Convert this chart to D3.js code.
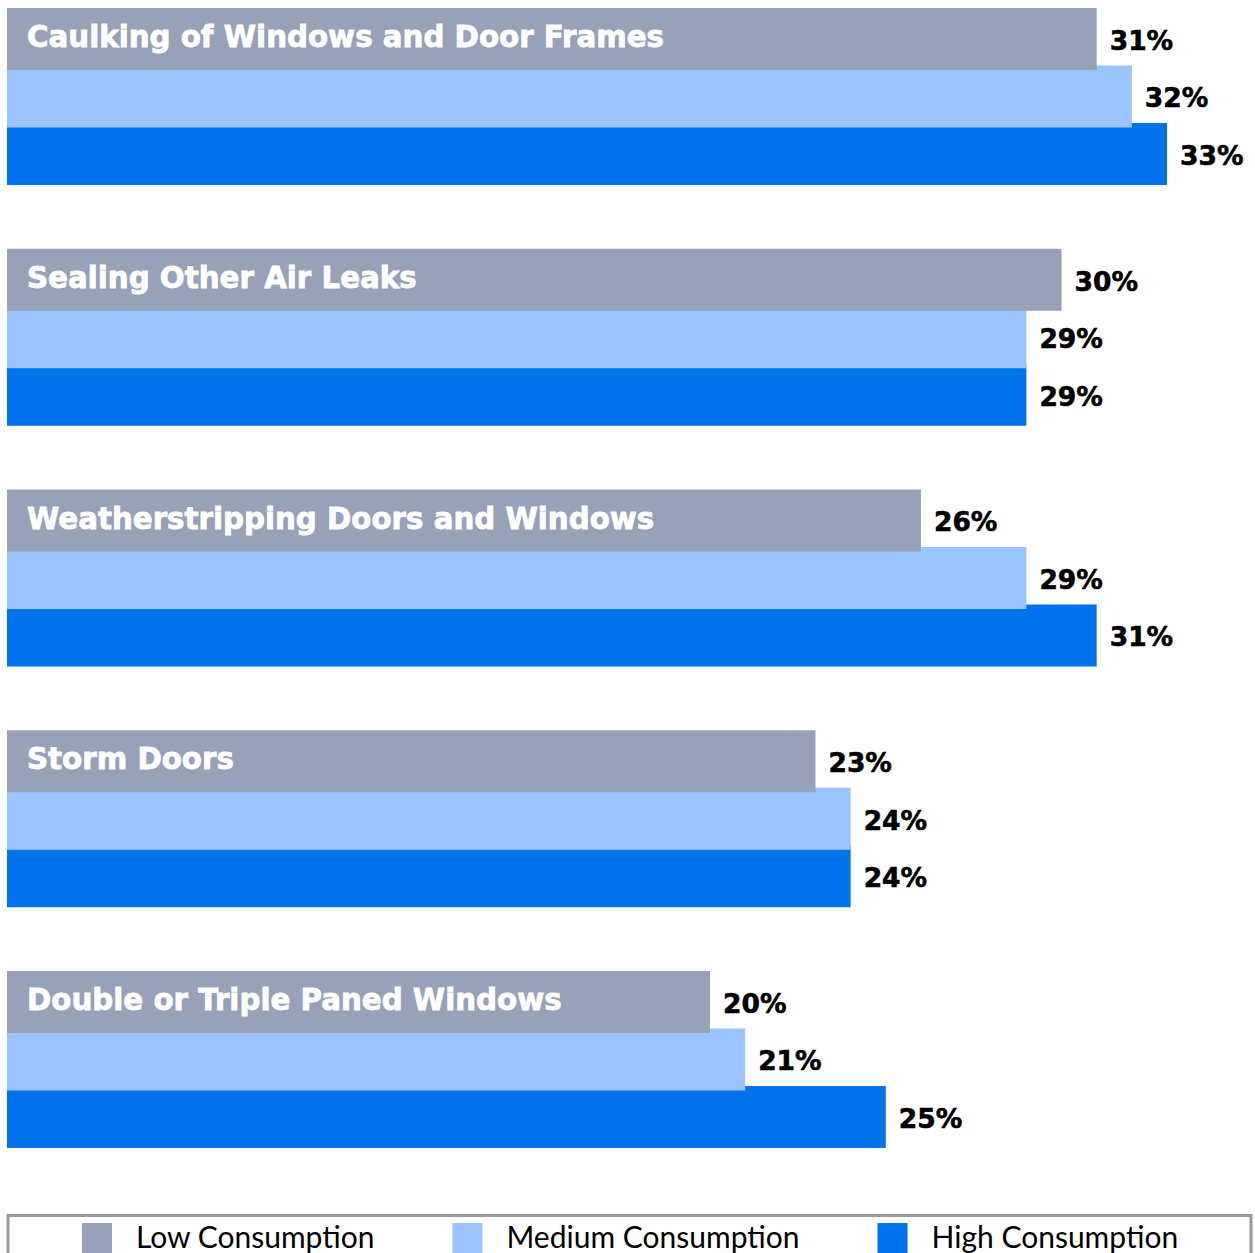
<!DOCTYPE html>
<html>
<head>
<meta charset="utf-8">
<script src="https://cdn.jsdelivr.net/npm/d3@7"></script>
<style>
  body { margin: 0; background: #fff; }
  svg { display: block; }
</style>
</head>
<body>
<div id="chart"></div>
<script>
// data
var categories = ["Caulking of Windows and Door Frames", "Sealing Other Air Leaks",
  "Weatherstripping Doors and Windows", "Storm Doors", "Double or Triple Paned Windows"];
var series = ["Low Consumption", "Medium Consumption", "High Consumption"];
var lowValues = [31, 30, 26, 23, 20];
var mediumValues = [32, 29, 29, 24, 21];
var highValues = [33, 29, 31, 24, 25];
var colors = ["#97a1b8", "#9bc3fd", "#0073ed"];

var width = 1255, height = 1253;

var svg = d3.select("#chart")
  .append("svg")
  .attr("width", width)
  .attr("height", height);

var x = d3.scaleLinear()
  .domain([0, 33])
  .range([7, 1167]);

// group bands
var y = d3.scaleBand()
  .domain(categories)
  .range([8, 1147])
  .paddingInner(0.269)
  .paddingOuter(0);

// bars inside a group (slight overlap like the original)
var ySub = d3.scaleBand()
  .domain(series)
  .range([0, 172.5]);

var data = categories.map(function(c, i) {
  return { cat: c, values: [lowValues[i], mediumValues[i], highValues[i]] };
});

var groups = svg.selectAll("g.group")
  .data(data)
  .enter()
  .append("g")
  .attr("class", "group")
  .attr("transform", function(d) { return "translate(0," + y(d.cat) + ")"; });

groups.each(function(d) {
  var g = d3.select(this);
  // draw high first so the upper bar sits on top
  series.slice().reverse().forEach(function(s) {
    var j = series.indexOf(s);
    g.append("rect")
      .attr("x", x(0))
      .attr("y", ySub(s))
      .attr("width", x(d.values[j]) - x(0))
      .attr("height", ySub.bandwidth() + 4.5)
      .attr("fill", colors[j]);
  });
  series.forEach(function(s, j) {
    g.append("text")
      .attr("x", x(d.values[j]) + 13)
      .attr("y", ySub(s) + ySub.bandwidth() / 2 + 13)
      .style("font-family", "'DejaVu Sans', sans-serif")
      .style("font-weight", "bold")
      .style("font-size", "26.5px")
      .attr("fill", "#000")
      .attr("stroke", "#000")
      .attr("stroke-width", 0.6)
      .text(d.values[j] + "%");
  });
  // category label inside the grey bar
  g.append("text")
    .attr("x", 27)
    .attr("y", 39)
    .style("font-family", "'DejaVu Sans', sans-serif")
    .style("font-weight", "bold")
    .style("font-size", "29.3px")
    .attr("fill", "#fff")
    .attr("stroke", "#fff")
    .attr("stroke-width", 0.8)
    .text(d.cat);
});

// legend
svg.append("rect")
  .attr("x", 8)
  .attr("y", 1215.5)
  .attr("width", 1243)
  .attr("height", 60)
  .attr("fill", "#fff")
  .attr("stroke", "#999")
  .attr("stroke-width", 3);

var lx = 82;
series.forEach(function(s, j) {
  svg.append("rect")
    .attr("x", lx)
    .attr("y", 1223)
    .attr("width", 30)
    .attr("height", 40)
    .attr("fill", colors[j]);
  var t = svg.append("text")
    .attr("x", lx + 54)
    .attr("y", 1248)
    .style("font-family", "Lato, sans-serif")
    .style("font-size", "30px")
    .attr("fill", "#000")
    .text(s);
  lx = lx + 54 + t.node().getComputedTextLength() + 78;
});
</script>
</body>
</html>
